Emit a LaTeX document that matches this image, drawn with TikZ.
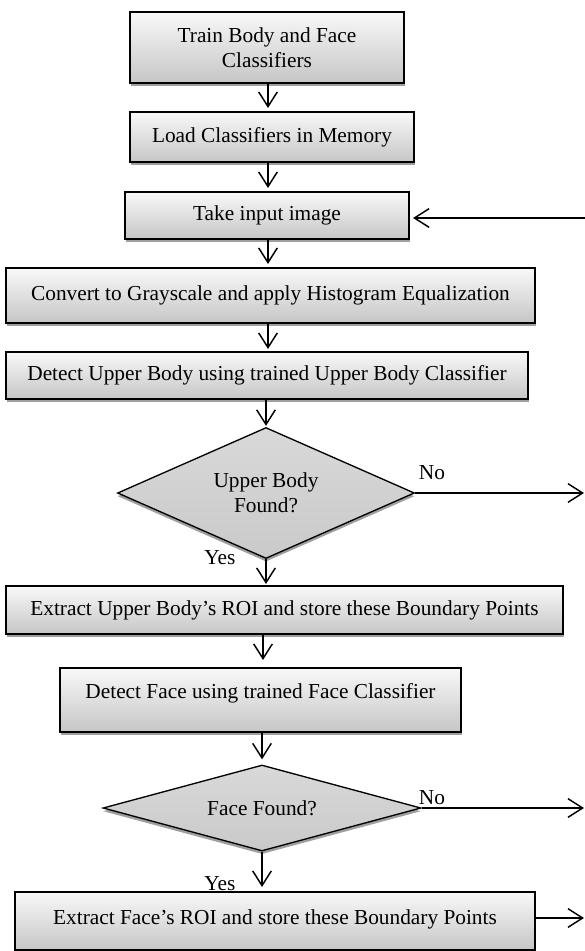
\documentclass[tikz,border=0pt]{standalone}
\usepackage{fontspec}
\setmainfont{Liberation Serif}
\usetikzlibrary{shapes.geometric,shadows,arrows.meta,calc}
\begin{document}
\begin{tikzpicture}[x=0.75pt,y=-0.75pt,
  every node/.style={font=\fontsize{16}{18.75}\selectfont},
  procbox/.style={draw=black,line width=1.6pt,rectangle,inner sep=2pt,
    top color=gray!5,bottom color=gray!45,align=center,
    drop shadow={shadow xshift=1pt,shadow yshift=-2.4pt,fill=gray!75,opacity=1}},
  decbox/.style={draw=black,line width=1pt,diamond,inner sep=0pt,aspect=2.2,
    top color=gray!30,bottom color=gray!42,align=center,
    drop shadow={shadow xshift=0pt,shadow yshift=-2.4pt,fill=gray!75,opacity=1}},
  arr/.style={line width=1.1pt,-{Straight Barb[length=11pt,width=14pt,line width=1.1pt]}},
  lab/.style={inner sep=0pt}
]
\useasboundingbox (0,0) rectangle (585,951);

% process boxes
\node[procbox,minimum width=274*0.75pt,minimum height=71*0.75pt] (b1) at (267,47.5)
  {Train Body and Face\\Classifiers};
\node[procbox,minimum width=284*0.75pt,minimum height=50*0.75pt] (b2) at (272,137)
  {Load Classifiers in Memory};
\node[procbox,minimum width=284*0.75pt,minimum height=47*0.75pt] (b3) at (267,215.5)
  {Take input image};
\node[procbox,minimum width=529*0.75pt,minimum height=55*0.75pt] (b4) at (270.5,295.5)
  {Convert to Grayscale and apply Histogram Equalization};
\node[procbox,minimum width=522*0.75pt,minimum height=47*0.75pt] (b5) at (267,375.5)
  {Detect Upper Body using trained Upper Body Classifier};
\node[decbox,minimum width=297*0.75pt,minimum height=131*0.75pt] (d1) at (266,493)
  {Upper Body\\Found?};
\node[procbox,minimum width=557*0.75pt,minimum height=48*0.75pt] (b6) at (284.5,610)
  {Extract Upper Body’s ROI and store these Boundary Points};
\node[procbox,minimum width=401*0.75pt,minimum height=64*0.75pt,text depth=14pt] (b7) at (260.5,700)
  {Detect Face using trained Face Classifier};
\node[decbox,minimum width=318*0.75pt,minimum height=86*0.75pt,aspect=3.7] (d2) at (262,808)
  {Face Found?};
\node[procbox,minimum width=520*0.75pt,minimum height=58*0.75pt,text depth=6pt] (b8) at (275,921)
  {Extract Face’s ROI and store these Boundary Points};

% labels
\node[lab] (no1) at (432,473) {No};
\node[lab] (yes1) at (220,558) {Yes};
\node[lab] (no2) at (432,798) {No};
\node[lab] (yes2) at (220,884) {Yes};

% columns and outside ends
\coordinate (c1) at (268,0);
\coordinate (c2) at (266,0);
\coordinate (c3) at (263,0);
\coordinate (c4) at (262,0);
\coordinate (in3) at (585,218);
\coordinate (out1) at (584,493);
\coordinate (out2) at (584,808);
\coordinate (out3) at (584,918);

% connectors
\draw[arr] (c1 |- b1.south) -- ($(c1 |- b2.north)+(0,-3)$);
\draw[arr] (c1 |- b2.south) -- ($(c1 |- b3.north)+(0,-3)$);
\draw[arr] (c1 |- b3.south) -- ($(c1 |- b4.north)+(0,-3)$);
\draw[arr] (c1 |- b4.south) -- ($(c1 |- b5.north)+(0,-2)$);
\draw[arr] (c2 |- b5.south) -- ($(d1.north)+(0,-1)$);
\draw[arr] (d1.south) -- ($(c2 |- b6.north)+(0,-1)$);
\draw[arr] (c3 |- b6.south) -- ($(c3 |- b7.north)+(0,-7)$);
\draw[arr] (c4 |- b7.south) -- ($(d2.north)+(0,-5)$);
\draw[arr] (d2.south) -- ($(c4 |- b8.north)+(0,-4)$);
\draw[arr] (in3) -- ($(in3 -| b3.east)+(3,0)$);
\draw[arr] (d1.east) -- (out1);
\draw[arr] (d2.east) -- (out2);
\draw[arr] (out3 -| b8.east) -- (out3);
\end{tikzpicture}
\end{document}
